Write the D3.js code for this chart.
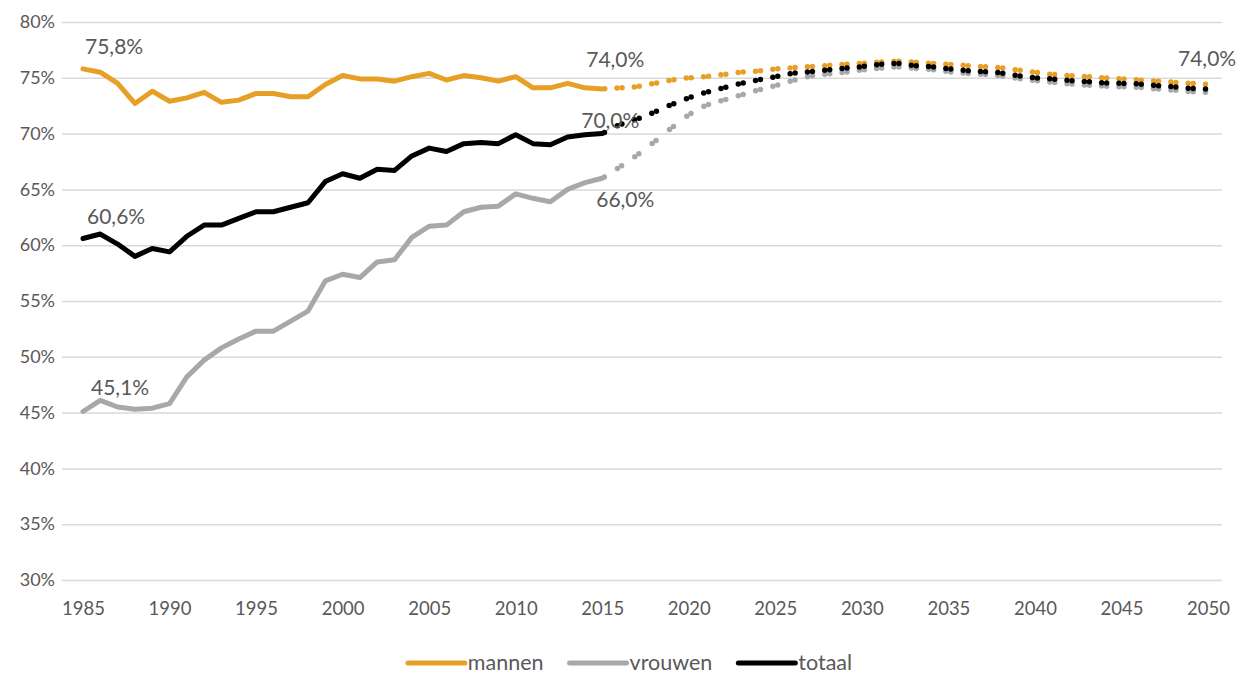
<!DOCTYPE html>
<html>
<head>
<meta charset="utf-8">
<script src="https://cdn.jsdelivr.net/npm/d3@7"></script>
<style>
  body { margin: 0; background: #fff; }
  svg { display: block; font-family: Lato, "Open Sans", sans-serif; }
</style>
</head>
<body>
<script>
// gemeten waarden (1985-2015) en prognose (2015-2050)
var yearsHist = d3.range(1985, 2016);
var yearsProj = d3.range(2015, 2051);

var mannenHist = [75.8, 75.5, 74.5, 72.7, 73.8, 72.9, 73.2, 73.7, 72.8, 73.0, 73.6, 73.6, 73.3, 73.3, 74.4, 75.2,
  74.9, 74.9, 74.7, 75.1, 75.4, 74.8, 75.2, 75.0, 74.7, 75.1, 74.1, 74.1, 74.5, 74.1, 74.0];
var vrouwenHist = [45.1, 46.1, 45.5, 45.3, 45.4, 45.8, 48.2, 49.7, 50.8, 51.6, 52.3, 52.3, 53.2, 54.1, 56.8, 57.4,
  57.1, 58.5, 58.7, 60.7, 61.7, 61.8, 63.0, 63.4, 63.5, 64.6, 64.2, 63.9, 65.0, 65.6, 66.0];
var totaalHist = [60.6, 61.0, 60.1, 59.0, 59.7, 59.4, 60.8, 61.8, 61.8, 62.4, 63.0, 63.0, 63.4, 63.8, 65.7, 66.4,
  66.0, 66.8, 66.7, 68.0, 68.7, 68.4, 69.1, 69.2, 69.1, 69.9, 69.1, 69.0, 69.7, 69.9, 70.0];

var mannenProj = [74.0, 74.1, 74.2, 74.5, 74.8, 75.0, 75.1, 75.3, 75.5, 75.6, 75.8, 75.9, 76.0, 76.1, 76.2, 76.3,
  76.4, 76.5, 76.4, 76.3, 76.2, 76.1, 76.0, 75.9, 75.7, 75.5, 75.3, 75.2, 75.1, 75.0, 74.9, 74.8, 74.7, 74.6, 74.5, 74.4];
var vrouwenProj = [66.0, 67.0, 68.05, 69.25, 70.5, 71.7, 72.55, 73.0, 73.45, 73.9, 74.3, 74.75, 75.15, 75.35, 75.5, 75.7,
  75.85, 76.0, 75.85, 75.75, 75.55, 75.4, 75.3, 75.2, 74.95, 74.75, 74.6, 74.45, 74.35, 74.25, 74.2, 74.15, 74.0, 73.9, 73.75, 73.7];
var totaalProj = [70.0, 70.8, 71.3, 71.9, 72.6, 73.2, 73.7, 74.1, 74.5, 74.8, 75.1, 75.4, 75.55, 75.7, 75.85, 76.0,
  76.2, 76.3, 76.1, 76.0, 75.8, 75.65, 75.55, 75.45, 75.2, 75.0, 74.9, 74.75, 74.65, 74.55, 74.5, 74.45, 74.3, 74.2, 74.05, 74.0];

var seriesNames = ["mannen", "vrouwen", "totaal"];
var yTicks = d3.range(30, 81, 5);
var xTicks = d3.range(1985, 2051, 5);

// datalabels: reeks, jaar, tekst
var labelSeries = ["mannen", "totaal", "vrouwen", "mannen", "totaal", "vrouwen", "totaal"];
var labelYears = [1985, 1985, 1985, 2015, 2015, 2015, 2050];
var labelTexts = ["75,8%", "60,6%", "45,1%", "74,0%", "70,0%", "66,0%", "74,0%"];
// verschuiving van elk label t.o.v. zijn punt
var labelShift = [[2, -15], [4, -15], [8, -16], [-16, -22], [-21, -6], [-6, 29], [-30, -23]];

var colors = {mannen: "#E89F26", vrouwen: "#A6A8AB", totaal: "#000000"};
var hist = {mannen: mannenHist, vrouwen: vrouwenHist, totaal: totaalHist};
var proj = {mannen: mannenProj, vrouwen: vrouwenProj, totaal: totaalProj};

var width = 1252, height = 677;
var gridLeft = 62, gridRight = 1222;

var x = d3.scaleLinear().domain([1985, 2050]).range([83, 1208]);
var y = d3.scaleLinear().domain([30, 80]).range([580, 22]);

var svg = d3.select("body").append("svg")
    .attr("width", width)
    .attr("height", height);

// y-as met rasterlijnen
var yAxis = d3.axisLeft(y)
    .tickValues(yTicks)
    .tickSize(-(gridRight - gridLeft))
    .tickPadding(7)
    .tickFormat(function(d){ return d + "%"; });

var gy = svg.append("g")
    .attr("transform", "translate(" + gridLeft + ",0)")
    .call(yAxis);
gy.select(".domain").remove();
gy.selectAll("line").attr("stroke", "#D9D9D9").attr("stroke-width", 1.5);
gy.selectAll("text").attr("fill", "#595959").attr("font-size", "18px").attr("font-family", "Lato");

// x-as, alleen labels
var xAxis = d3.axisBottom(x)
    .tickValues(xTicks)
    .tickSize(0)
    .tickPadding(22)
    .tickFormat(d3.format("d"));

var gx = svg.append("g")
    .attr("transform", "translate(0," + y(30) + ")")
    .call(xAxis);
gx.select(".domain").remove();
gx.selectAll("text").attr("fill", "#595959").attr("font-size", "18.5px").attr("font-family", "Lato");

var line = d3.line()
    .x(function(d){ return x(d[0]); })
    .y(function(d){ return y(d[1]); });

// prognose: gestippeld, per jaar een los segment (zoals Excel het tekent)
seriesNames.forEach(function(name){
    var pts = yearsProj.map(function(yr, i){ return [yr, proj[name][i]]; });
    var segs = d3.pairs(pts);
    svg.append("g")
        .selectAll("path")
        .data(segs)
        .join("path")
        .attr("d", function(s){ return line(s); })
        .attr("fill", "none")
        .attr("stroke", colors[name])
        .attr("stroke-width", 5.5)
        .attr("stroke-linecap", "round")
        .attr("stroke-dasharray", function(s){
            var dx = x(s[1][0]) - x(s[0][0]);
            var dy = y(s[1][1]) - y(s[0][1]);
            var len = Math.sqrt(dx*dx + dy*dy);
            return "0," + (len - 5) + ",0,1000";
        })
        .attr("stroke-dashoffset", -2.5);
});

// gemeten: doorgetrokken lijnen
seriesNames.forEach(function(name){
    var pts = yearsHist.map(function(yr, i){ return [yr, hist[name][i]]; });
    svg.append("path")
        .datum(pts)
        .attr("d", line)
        .attr("fill", "none")
        .attr("stroke", colors[name])
        .attr("stroke-width", 5)
        .attr("stroke-linejoin", "round")
        .attr("stroke-linecap", "round");
});

// datalabels
labelTexts.forEach(function(t, i){
    var name = labelSeries[i];
    var yr = labelYears[i];
    var v = yr <= 2015 ? hist[name][yearsHist.indexOf(yr)] : proj[name][yearsProj.indexOf(yr)];
    svg.append("text")
        .attr("x", x(yr) + labelShift[i][0])
        .attr("y", y(v) + labelShift[i][1])
        .attr("fill", "#595959")
        .attr("font-size", "21px")
        .text(t);
});

// legenda
var legend = svg.append("g").attr("transform", "translate(0,663)");
var lx = 0;
seriesNames.forEach(function(name){
    var g = legend.append("g").attr("transform", "translate(" + lx + ",0)");
    g.append("line")
        .attr("x1", 0).attr("x2", 57)
        .attr("y1", 0).attr("y2", 0)
        .attr("stroke", colors[name])
        .attr("stroke-width", 5)
        .attr("stroke-linecap", "round");
    var t = g.append("text")
        .attr("x", 60)
        .attr("y", 7)
        .attr("fill", "#595959")
        .attr("font-size", "21.5px")
        .text(name);
    lx += 60 + t.node().getComputedTextLength() + 26;
});
var legW = lx - 26;
legend.attr("transform", "translate(" + (630 - legW / 2) + ",663)");
</script>
</body>
</html>
